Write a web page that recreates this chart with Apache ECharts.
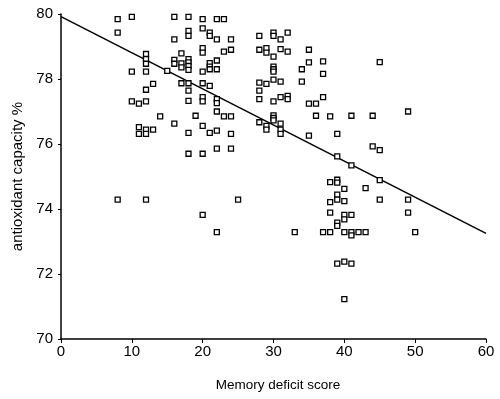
<!DOCTYPE html>
<html>
<head>
<meta charset="utf-8">
<script src="https://cdn.jsdelivr.net/npm/echarts@6/dist/echarts.min.js"></script>
<style>
html, body { margin: 0; padding: 0; background: #fff; }
#chart { width: 500px; height: 399px; }
</style>
</head>
<body>
<div id="chart"></div>
<script>
// memory deficit score of each subject (x)
var memoryScore = [
    8, 8, 8,
    10, 10, 10,
    11, 11, 11,
    12, 12, 12, 12, 12, 12, 12, 12, 12,
    13, 13,
    14,
    15,
    16, 16, 16, 16, 16,
    17, 17, 17, 17,
    18, 18, 18, 18, 18, 18, 18, 18, 18, 18, 18, 18,
    19,
    20, 20, 20, 20, 20, 20, 20, 20, 20, 20, 20,
    21, 21, 21, 21, 21, 21, 21,
    22, 22, 22, 22, 22, 22, 22, 22, 22, 22,
    23, 23, 23,
    24, 24, 24, 24, 24,
    25,
    28, 28, 28, 28, 28, 28,
    29, 29, 29, 29, 29,
    30, 30, 30, 30, 30, 30, 30, 30, 30, 30, 30,
    31, 31, 31, 31, 31, 31, 31,
    32, 32, 32, 32,
    33,
    34, 34,
    35, 35, 35, 35,
    36, 36,
    37, 37, 37, 37,
    38, 38, 38, 38, 38,
    39, 39, 39, 39, 39, 39, 39, 39, 39,
    40, 40, 40, 40, 40, 40, 40,
    41, 41, 41, 41, 41, 41,
    42,
    43, 43,
    44, 44,
    45, 45, 45, 45,
    49, 49, 49,
    50
];
// antioxidant capacity % (y), same order
var capacity = [
    79.84, 79.43, 74.29,
    79.91, 78.23, 77.31,
    77.24, 76.52, 76.31,
    78.77, 78.61, 78.47, 78.23, 77.67, 77.31, 76.44, 76.31, 74.29,
    77.85, 76.44,
    76.85,
    78.25,
    79.91, 79.22, 78.59, 78.47, 76.63,
    78.79, 78.48, 78.36, 77.87,
    79.91, 79.48, 79.33, 78.61, 78.51, 78.40, 78.28, 77.87, 77.64, 77.33, 76.34, 75.70,
    76.87,
    79.84, 79.56, 78.95, 78.81, 78.23, 77.87, 77.44, 77.31, 76.56, 75.70, 73.82,
    79.43, 79.33, 78.49, 78.38, 78.30, 77.79, 76.34,
    79.84, 79.22, 78.57, 78.30, 77.38, 77.26, 77.00, 76.41, 75.86, 73.29,
    79.84, 78.84, 76.85,
    79.22, 78.90, 76.85, 76.31, 75.86,
    74.29,
    79.33, 78.90, 77.89, 77.64, 77.38, 76.67,
    78.95, 78.81, 77.85, 76.56, 76.44,
    79.43, 79.33, 78.69, 78.38, 78.30, 78.23, 77.98, 77.31, 76.88, 76.80, 76.73,
    79.22, 78.92, 77.92, 77.44, 76.63, 76.44, 76.31,
    79.43, 78.84, 77.48, 77.38,
    73.29,
    78.30, 77.92,
    78.90, 78.51, 77.24, 76.26,
    77.24, 76.87,
    78.54, 78.16, 77.44, 73.29,
    76.85, 74.83, 74.21, 73.89, 73.29,
    76.31, 75.62, 74.90, 74.81, 74.44, 74.29, 73.58, 73.48, 72.32,
    74.62, 74.24, 73.82, 73.68, 73.29, 72.38, 71.23,
    76.87, 75.34, 73.82, 73.29, 73.19, 72.32,
    73.29,
    74.64, 73.29,
    76.87, 75.93,
    78.52, 75.81, 74.89, 74.29,
    77.00, 74.29, 73.89,
    73.29
];
// fitted line end points
var fitX = [0, 60];
var fitY = [79.92, 73.25];

var xTicks = [0, 10, 20, 30, 40, 50, 60];
var yTicks = [70, 72, 74, 76, 78, 80];

var points = memoryScore.map(function(x, i) { return [x, capacity[i]]; });
var fitLine = fitX.map(function(x, i) { return [x, fitY[i]]; });

var myChart = echarts.init(document.getElementById('chart'));

var fontName = 'Liberation Sans, Arial, sans-serif';
var axisFont = { fontFamily: fontName, fontSize: 15, color: '#000' };

var option = {
    backgroundColor: '#fff',
    animation: false,
    grid: { left: 61, right: 14, top: 14, bottom: 60 },
    xAxis: {
        type: 'value',
        min: xTicks[0],
        max: xTicks[xTicks.length - 1],
        interval: 10,
        name: 'Memory deficit score',
        nameLocation: 'middle',
        nameGap: 39,
        nameTextStyle: { fontFamily: fontName, fontSize: 13.5, color: '#000', padding: [0, 0, 0, 9] },
        axisLine: { lineStyle: { color: '#000', width: 1.5 } },
        axisTick: { inside: false, length: 4, lineStyle: { color: '#000', width: 1 } },
        axisLabel: Object.assign({ margin: 5 }, axisFont),
        splitLine: { show: false }
    },
    yAxis: {
        type: 'value',
        min: yTicks[0],
        max: yTicks[yTicks.length - 1],
        interval: 2,
        name: 'antioxidant capacity %',
        nameLocation: 'middle',
        nameGap: 33,
        nameTextStyle: { fontFamily: fontName, fontSize: 15, color: '#000' },
        axisLine: { show: true, lineStyle: { color: '#000', width: 1.5 } },
        axisTick: { show: true, inside: false, length: 3, lineStyle: { color: '#000', width: 1 } },
        axisLabel: Object.assign({ margin: 8 }, axisFont),
        splitLine: { show: false }
    },
    series: [
        {
            type: 'line',
            data: fitLine,
            symbol: 'none',
            lineStyle: { color: '#000', width: 1.5 },
            z: 1
        },
        {
            type: 'scatter',
            data: points,
            symbol: 'rect',
            symbolSize: 5,
            itemStyle: { color: '#fff', borderColor: '#000', borderWidth: 1.3, opacity: 1 },
            z: 2
        }
    ]
};

myChart.setOption(option);
</script>
</body>
</html>
